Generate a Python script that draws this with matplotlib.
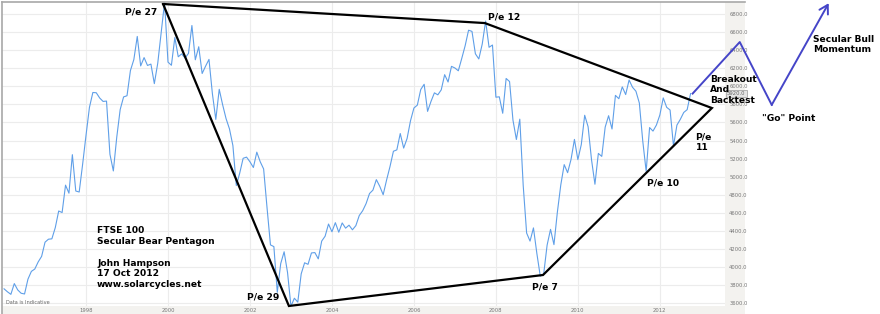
import numpy as np
import matplotlib
matplotlib.use("Agg")
import matplotlib.pyplot as plt
from matplotlib.patches import Rectangle
from matplotlib.lines import Line2D

# FTSE 100 monthly closes, Jan 1996 - Oct 2012
y1996 = [3760, 3727, 3699, 3818, 3748, 3711, 3703, 3867, 3953, 3979, 4058, 4119]
y1997 = [4276, 4309, 4313, 4437, 4621, 4604, 4907, 4818, 5244, 4842, 4831, 5136]
y1998 = [5459, 5767, 5932, 5929, 5871, 5833, 5837, 5249, 5064, 5438, 5743, 5883]
y1999 = [5896, 6175, 6296, 6552, 6226, 6318, 6231, 6246, 6030, 6256, 6597, 6930]
y2000 = [6268, 6233, 6540, 6327, 6359, 6313, 6365, 6673, 6294, 6438, 6142, 6223]
y2001 = [6298, 5918, 5634, 5967, 5796, 5643, 5529, 5345, 4903, 5040, 5204, 5217]
y2002 = [5165, 5102, 5272, 5166, 5086, 4656, 4246, 4227, 3722, 4039, 4170, 3940]
y2003 = [3567, 3656, 3613, 3926, 4048, 4031, 4157, 4161, 4091, 4288, 4342, 4477]
y2004 = [4391, 4492, 4386, 4489, 4431, 4464, 4413, 4459, 4571, 4624, 4703, 4814]
y2005 = [4852, 4968, 4894, 4801, 4964, 5113, 5282, 5297, 5478, 5317, 5423, 5619]
y2006 = [5760, 5792, 5965, 6023, 5723, 5833, 5928, 5906, 5961, 6129, 6048, 6221]
y2007 = [6203, 6172, 6308, 6449, 6621, 6608, 6360, 6303, 6467, 6722, 6432, 6457]
y2008 = [5880, 5884, 5702, 6087, 6053, 5626, 5412, 5637, 4902, 4377, 4288, 4434]
y2009 = [4150, 3900, 3926, 4244, 4418, 4249, 4608, 4909, 5134, 5045, 5191, 5413]
y2010 = [5189, 5355, 5680, 5553, 5188, 4917, 5258, 5225, 5549, 5675, 5528, 5900]
y2011 = [5863, 5994, 5909, 6070, 5990, 5946, 5815, 5395, 5060, 5544, 5505, 5572]
y2012 = [5682, 5872, 5768, 5738, 5340, 5571, 5635, 5711, 5742, 5920]

ftse = np.array(y1996 + y1997 + y1998 + y1999 + y2000 + y2001 + y2002 + y2003 +
                y2004 + y2005 + y2006 + y2007 + y2008 + y2009 + y2010 + y2011 + y2012)
dates = 1996 + np.arange(len(ftse)) / 12.0

# pentagon vertices (year, index level)
pent_x = [1999.88, 2007.73, 2013.27, 2009.15, 2002.95, 1999.88]
pent_y = [6911, 6700, 5760, 3913, 3570, 6911]

# projected path: breakout, backtest, "go" point, bull leg
proj_x = [2012.80, 2013.95, 2014.73, 2016.12]
proj_y = [5920, 6490, 5795, 6920]

year_ticks = [1998, 2000, 2002, 2004, 2006, 2008, 2010, 2012]
level_ticks = np.arange(3600, 6801, 200)

W, H = 880, 314
fig = plt.figure(figsize=(W / 100, H / 100), dpi=100)

# axis strips (gray background)
fig.patches.append(Rectangle((725 / W, 0), 20 / W, 312 / H, transform=fig.transFigure,
                             facecolor='#f3f2ef', edgecolor='none', zorder=-1))
fig.patches.append(Rectangle((2 / W, 0), 743 / W, 8 / H, transform=fig.transFigure,
                             facecolor='#f3f2ef', edgecolor='none', zorder=-1))
fig.lines.append(Line2D([2 / W, 745 / W], [312 / H, 312 / H], transform=fig.transFigure,
                        color='#a8a8a8', lw=1.2))
fig.lines.append(Line2D([2 / W, 2 / W], [0, 312 / H], transform=fig.transFigure,
                        color='#a8a8a8', lw=1.2))

ax = fig.add_axes([2 / W, 8 / H, 723 / W, 304 / H])
ax.set_xlim(1995.95, 2013.59)
ax.set_ylim(3570, 6933)
for s in ax.spines.values():
    s.set_visible(False)

ax.set_xticks(year_ticks)
ax.set_xticklabels([str(y) for y in year_ticks])
ax.set_yticks(level_ticks)
ax.set_yticklabels(['%.1f' % v for v in level_ticks])
ax.yaxis.tick_right()
ax.tick_params(axis='both', length=0, labelsize=3.8, colors='#777777')
ax.tick_params(axis='y', pad=3)
ax.tick_params(axis='x', pad=1.5)
ax.grid(True, color='#ececec', lw=0.8)
ax.set_axisbelow(True)

ax.plot(dates, ftse, color='#5f9fe8', lw=0.8)

# current value box
ax.text(2013.64, ftse[-1], '%.1f' % ftse[-1], fontsize=3.8, color='#666666', va='center',
        ha='left', clip_on=False, zorder=4,
        bbox=dict(boxstyle='square,pad=0.25', fc='#e4e4e4', ec='#999999', lw=0.5))

ax.plot(pent_x, pent_y, color='black', lw=1.6, solid_joinstyle='miter', clip_on=False)

ax.plot(proj_x[:-1], proj_y[:-1], color='#4545c8', lw=1.4, clip_on=False)
ax.annotate('', xy=(proj_x[-1], proj_y[-1]), xytext=(proj_x[-2], proj_y[-2]),
            annotation_clip=False,
            arrowprops=dict(arrowstyle='->,head_length=0.6,head_width=0.35',
                            color='#4545c8', lw=1.4, shrinkA=0, shrinkB=0))

bold = dict(fontsize=6.6, fontweight='bold', color='black', zorder=5)
ax.text(1999.75, 6820, 'P/e 27', ha='right', va='center', **bold)
ax.text(2007.80, 6770, 'P/e 12', ha='left', va='center', **bold)
ax.text(2011.68, 4931, 'P/e 10', ha='left', va='center', **bold)
ax.text(2008.88, 3780, 'P/e 7', ha='left', va='center', **bold)
ax.text(2001.92, 3666, 'P/e 29', ha='left', va='center', **bold)
ax.text(2012.87, 5384, 'P/e\n11', ha='left', va='center', linespacing=1.2,
        clip_on=False, **bold)
ax.text(2013.23, 5960, 'Breakout\nAnd\nBacktest', ha='left', va='center',
        linespacing=1.2, clip_on=False, **bold)
ax.text(2014.49, 5639, '"Go" Point', ha='left', va='center', clip_on=False, **bold)
ax.text(2015.73, 6463, 'Secular Bull\nMomentum', ha='left', va='center',
        linespacing=1.2, clip_on=False, **bold)
ax.text(1998.27, 4103, 'FTSE 100\nSecular Bear Pentagon\n\nJohn Hampson\n17 Oct 2012\nwww.solarcycles.net',
        ha='left', va='center', linespacing=1.25, **bold)
ax.text(1996.05, 3610, 'Data is Indicative', fontsize=3.6, color='#666666', ha='left', va='center')

fig.savefig('out.png', dpi=100)
